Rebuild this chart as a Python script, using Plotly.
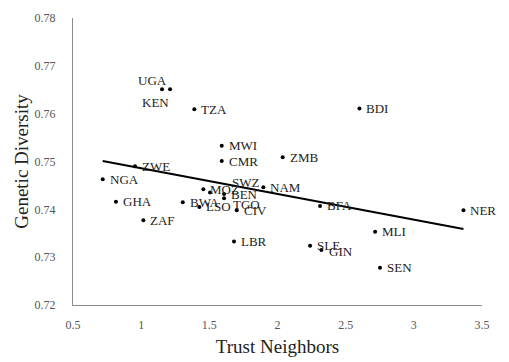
import numpy as np
import plotly.graph_objects as go

countries = ["UGA", "KEN", "TZA", "BDI", "MWI", "CMR", "ZMB", "ZWE", "NGA", "GHA",
             "ZAF", "BWA", "LSO", "MOZ", "SWZ", "BEN", "TGO", "CIV", "NAM", "LBR",
             "BFA", "NER", "MLI", "SLE", "GIN", "SEN"]
trust = [1.212, 1.153, 1.390, 2.601, 1.591, 1.591, 2.038, 0.955, 0.718, 0.815,
         1.016, 1.305, 1.427, 1.456, 1.505, 1.608, 1.608, 1.701, 1.896, 1.681,
         2.312, 3.364, 2.716, 2.239, 2.322, 2.752]
diversity = [0.7651, 0.7651, 0.7609, 0.7611, 0.7533, 0.7501, 0.7509, 0.7490, 0.7463, 0.7416,
             0.7377, 0.7415, 0.7405, 0.7442, 0.7435, 0.7432, 0.7423, 0.7398, 0.7446, 0.7333,
             0.7407, 0.7398, 0.7353, 0.7324, 0.7315, 0.7278]

x_ticks = [0.5, 1, 1.5, 2, 2.5, 3, 3.5]
y_ticks = [0.72, 0.73, 0.74, 0.75, 0.76, 0.77, 0.78]

# label placement (pixel shifts, styling only)
label_style = {
    "UGA": dict(xanchor="center", xshift=-18, yshift=9),
    "KEN": dict(xanchor="center", xshift=-7, yshift=-13),
    "SWZ": dict(xanchor="left", xshift=20, yshift=10),
    "TGO": dict(xanchor="left", xshift=7, yshift=-6),
    "GIN": dict(xanchor="left", xshift=6, yshift=-2),
}

FONT = "Liberation Serif"

xa = np.array(trust)
ya = np.array(diversity)
slope, intercept = np.polyfit(xa, ya, 1)
x_line = np.array([xa.min(), xa.max()])
y_line = slope * x_line + intercept

fig = go.Figure()
fig.add_trace(go.Scatter(x=x_line, y=y_line, mode="lines",
                         line=dict(color="black", width=2), hoverinfo="skip",
                         showlegend=False))
fig.add_trace(go.Scatter(x=trust, y=diversity, mode="markers",
                         marker=dict(color="black", size=4), showlegend=False))

for c, xv, yv in zip(countries, trust, diversity):
    st = dict(xanchor="left", xshift=5, yshift=0)
    st.update(label_style.get(c, {}))
    fig.add_annotation(x=xv, y=yv, text=c, showarrow=False, yanchor="middle",
                       font=dict(family=FONT, size=13, color="#222"), **st)

fig.update_layout(
    width=509, height=362,
    margin=dict(l=73, r=27, t=18, b=57),
    paper_bgcolor="white", plot_bgcolor="white",
    font=dict(family=FONT, color="#333"),
    xaxis=dict(range=[0.5, 3.5], tickvals=x_ticks, ticktext=[f"{v:g}" for v in x_ticks],
               automargin=False,
               showgrid=False, zeroline=False, showline=True, linecolor="#8c8c8c", linewidth=1,
               ticks="outside", ticklen=9, tickcolor="rgba(0,0,0,0)",
               tickfont=dict(family=FONT, size=12, color="#555"),
               title=dict(text="Trust Neighbors", font=dict(family=FONT, size=19, color="#222"),
                          standoff=8)),
    yaxis=dict(range=[0.72, 0.78], tickvals=y_ticks, ticktext=[f"{v:.2f}" for v in y_ticks],
               automargin=False,
               showgrid=False, zeroline=False, showline=True, linecolor="#8c8c8c", linewidth=1,
               ticks="outside", ticklen=14, tickcolor="rgba(0,0,0,0)",
               tickfont=dict(family=FONT, size=12, color="#555"),
               title=dict(text="Genetic Diversity", font=dict(family=FONT, size=19, color="#222"),
                          standoff=0)),
)

fig.write_html("out.html", config={"displayModeBar": False},
               post_script="document.body.style.margin='0';document.body.style.overflow='hidden';")
